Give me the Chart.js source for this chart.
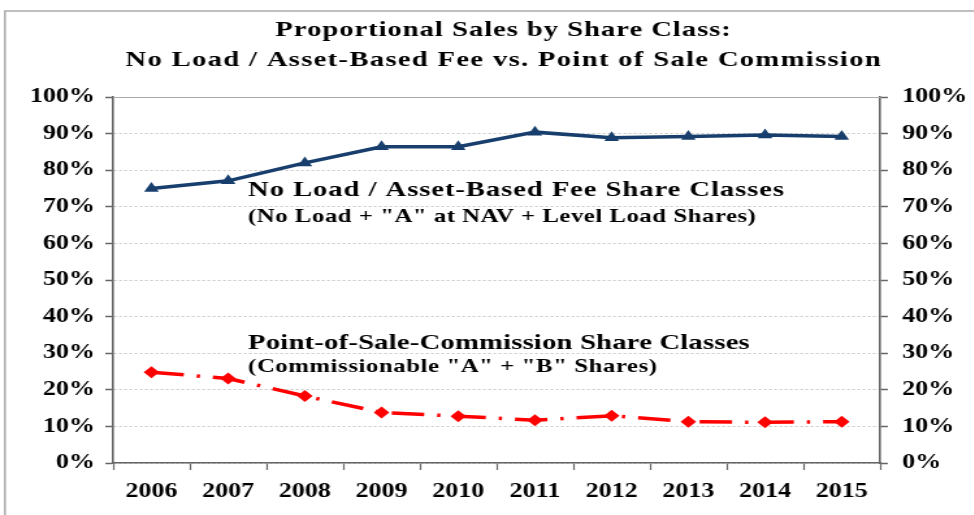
<!DOCTYPE html>
<html>
<head>
<meta charset="utf-8">
<script src="https://cdn.jsdelivr.net/npm/chart.js@4"></script>
<style>
  html, body { margin: 0; padding: 0; background: #fff; overflow: hidden; }
  /* the source picture is stretched sideways, so the chart is drawn narrow and widened */
  #wrap { width: 749px; height: 515px; transform: scaleX(1.3); transform-origin: 0 0; }
</style>
</head>
<body>
<div id="wrap"><canvas id="myChart" width="749" height="515"></canvas></div>
<script>
var years = ["2006","2007","2008","2009","2010","2011","2012","2013","2014","2015"];
var noLoad = [75.0, 77.1, 82.0, 86.4, 86.4, 90.4, 88.9, 89.2, 89.6, 89.2];
var commission = [24.8, 23.1, 18.3, 13.8, 12.8, 11.7, 12.9, 11.3, 11.1, 11.3];

var titleLines = ["Proportional Sales by Share Class:", "No Load / Asset-Based Fee vs. Point of Sale Commission"];
var noLoadLabel = ["No Load / Asset-Based Fee Share Classes", "(No Load + \"A\" at NAV + Level Load Shares)"];
var commissionLabel = ["Point-of-Sale-Commission Share Classes", "(Commissionable \"A\" + \"B\" Shares)"];

var serif = "'Liberation Serif', 'Times New Roman', serif";
var navy = "#173E6C";
var red = "#FF0000";

// draw text fitted to a given width with letter spacing
function spacedText(ctx, text, x, y, width, align) {
    ctx.letterSpacing = "0px";
    var w = ctx.measureText(text).width;
    var sp = (width - w) / text.length;
    ctx.letterSpacing = sp + "px";
    ctx.textAlign = align;
    ctx.fillText(text, align === "center" ? x + sp / 2 : x, y);
    ctx.letterSpacing = "0px";
}

var decor = {
    id: "decor",
    beforeDraw: function(chart) {
        var ctx = chart.ctx;
        ctx.save();
        ctx.strokeStyle = "#aaa";
        ctx.lineWidth = 1.5;
        ctx.beginPath();
        ctx.moveTo(3.8, 515);
        ctx.lineTo(3.8, 11);
        ctx.lineTo(749, 11);
        ctx.stroke();
        ctx.restore();
    },
    afterDatasetsDraw: function(chart) {
        var ctx = chart.ctx, xs = chart.scales.x, ys = chart.scales.y, area = chart.chartArea;
        ctx.save();
        // top frame line
        ctx.strokeStyle = "#aaa";
        ctx.lineWidth = 1;
        ctx.beginPath();
        ctx.moveTo(area.left, area.top + 0.5);
        ctx.lineTo(area.right, area.top + 0.5);
        ctx.stroke();

        ctx.fillStyle = "#000";
        ctx.textBaseline = "middle";
        ctx.font = "bold 22px " + serif;
        spacedText(ctx, titleLines[0], 387, 30, 351, "center");
        spacedText(ctx, titleLines[1], 387, 60, 582, "center");

        var lx = xs.getPixelForValue(1.26);
        ctx.font = "bold 22px " + serif;
        spacedText(ctx, noLoadLabel[0], lx, ys.getPixelForValue(74.6), 413, "left");
        ctx.font = "bold 19px " + serif;
        spacedText(ctx, noLoadLabel[1], lx, ys.getPixelForValue(67.2), 391, "left");
        ctx.font = "bold 22px " + serif;
        spacedText(ctx, commissionLabel[0], lx, ys.getPixelForValue(32.8), 386, "left");
        ctx.font = "bold 19px " + serif;
        spacedText(ctx, commissionLabel[1], lx, ys.getPixelForValue(26.2), 315, "left");
        ctx.restore();
    }
};

var tickFont = { family: serif, size: 20, weight: "bold" };

var ctx = document.getElementById("myChart").getContext("2d");
var myGraph = new Chart(ctx, {
    type: "line",
    data: {
        labels: years,
        datasets: [
            {
                data: noLoad,
                borderColor: navy,
                backgroundColor: navy,
                borderWidth: 3.5,
                tension: 0,
                pointStyle: "triangle",
                pointRadius: 6.5,
                pointBorderWidth: 0,
                fill: false
            },
            {
                data: commission,
                borderColor: red,
                backgroundColor: red,
                borderWidth: 3.5,
                borderDash: [25, 10, 2.5, 10],
                tension: 0,
                pointStyle: "rectRot",
                pointRadius: 6,
                pointBorderWidth: 0,
                fill: false
            }
        ]
    },
    options: {
        responsive: false,
        animation: false,
        layout: { padding: { top: 97, bottom: 0, left: 0, right: 0 } },
        plugins: {
            legend: { display: false },
            title: { display: false },
            tooltip: { enabled: false }
        },
        scales: {
            x: {
                offset: true,
                afterFit: function(scale) { scale.height = 52; },
                grid: {
                    offset: true,
                    drawOnChartArea: false,
                    drawTicks: true,
                    tickLength: 7,
                    tickColor: "#666",
                    tickWidth: 1.2
                },
                border: { color: "#666", width: 1.5 },
                ticks: { color: "#000", font: tickFont, padding: 10, maxRotation: 0 }
            },
            y: {
                position: "left",
                min: 0,
                max: 100,
                afterFit: function(scale) { scale.width = 87; },
                grid: {
                    color: "#c8c8c8",
                    lineWidth: 1,
                    tickLength: 6,
                    tickColor: "#666",
                    tickWidth: 1.5
                },
                border: { color: "#666", width: 1.6, dash: [2, 2] },
                ticks: {
                    stepSize: 10,
                    color: "#000",
                    font: tickFont,
                    padding: 8,
                    callback: function(v) { return v + "%"; }
                }
            },
            y2: {
                position: "right",
                min: 0,
                max: 100,
                afterFit: function(scale) { scale.width = 72; },
                grid: {
                    drawOnChartArea: false,
                    tickLength: 6,
                    tickColor: "#666",
                    tickWidth: 1.5
                },
                border: { color: "#666", width: 1.6 },
                ticks: {
                    stepSize: 10,
                    color: "#000",
                    font: tickFont,
                    padding: 11,
                    callback: function(v) { return v + "%"; }
                }
            }
        }
    },
    plugins: [decor]
});
</script>
</body>
</html>
